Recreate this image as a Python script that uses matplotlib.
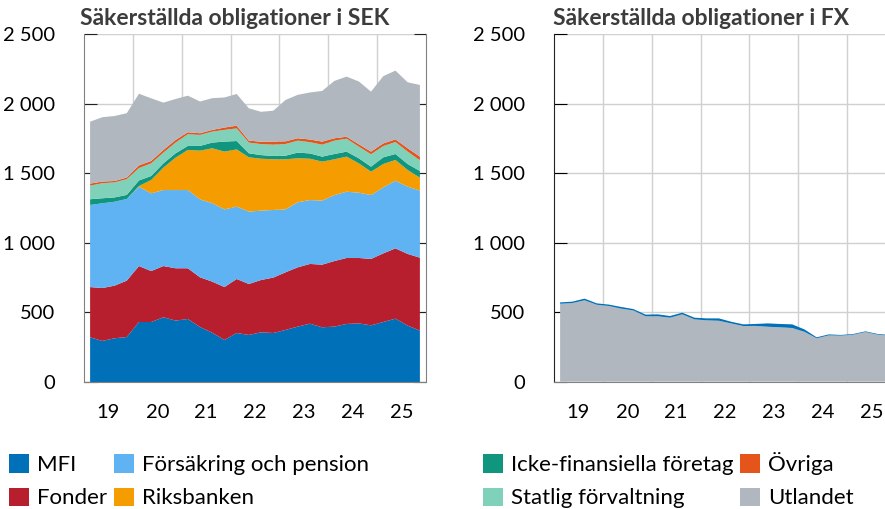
import numpy as np
import pandas as pd
import matplotlib
matplotlib.use("Agg")
import matplotlib.pyplot as plt
from matplotlib.ticker import FuncFormatter, FixedLocator
from matplotlib.patches import Patch

plt.rcParams['font.family'] = ['Lato', 'DejaVu Sans']

# kvartal 2019Q1 - 2025Q4
kvartal = pd.period_range('2019Q1', '2025Q4', freq='Q')

# Säkerställda obligationer i SEK (mdr kr)
mfi = [321, 295, 314, 323, 431, 431, 465, 441, 453, 395, 354, 302, 352, 338,
       357, 352, 374, 398, 419, 393, 398, 417, 421, 407, 431, 455, 405, 369]
fonder = [361, 380, 378, 405, 402, 366, 368, 376, 364, 357, 367, 380, 388, 366,
          376, 398, 414, 426, 429, 450, 471, 474, 470, 477, 493, 505, 515, 524]
forsakring = [590, 609, 603, 587, 570, 558, 546, 562, 562, 560, 563, 558, 520, 520,
              498, 486, 452, 467, 459, 460, 474, 476, 469, 459, 474, 486, 483, 482]
riksbanken = [0, 0, 0, 0, 5, 96, 161, 233, 288, 350, 395, 415, 411, 390,
              373, 364, 360, 316, 297, 280, 257, 252, 211, 168, 168, 149, 120, 93]
icke_fin = [41, 36, 31, 29, 40, 29, 31, 31, 29, 34, 41, 72, 60, 29,
            26, 24, 26, 41, 38, 36, 38, 36, 36, 36, 48, 43, 43, 48]
statlig = [98, 108, 108, 113, 89, 91, 77, 77, 84, 79, 79, 84, 91, 77,
           79, 81, 84, 86, 81, 86, 96, 93, 84, 89, 81, 86, 89, 77]
ovriga = [14, 12, 10, 12, 19, 17, 19, 19, 14, 12, 12, 17, 19, 14,
          17, 22, 19, 17, 19, 22, 17, 14, 17, 19, 19, 19, 24, 26]
utlandet = [445, 462, 467, 462, 515, 450, 340, 294, 263, 228, 228, 216, 228, 232,
            215, 222, 297, 312, 338, 364, 412, 432, 451, 431, 483, 494, 474, 515]

# Säkerställda obligationer i FX
fx_forsakring = [3] * 28
fx_utlandet = [559, 564, 584, 552, 543, 524, 511, 469, 469, 459, 483, 447, 440, 437,
               418, 399, 400, 394, 390, 385, 358, 311, 332, 330, 337, 356, 337, 330]
fx_mfi = [10, 10, 12, 10, 10, 12, 10, 12, 14, 12, 12, 12, 14, 17,
          12, 12, 14, 24, 24, 26, 17, 7, 7, 5, 5, 5, 5, 5]

ar_etiketter = ['19', '20', '21', '22', '23', '24', '25']

farger = {
    'MFI': '#0070b8',
    'Försäkring och pension': '#5fb3f2',
    'Fonder': '#b71f2e',
    'Riksbanken': '#f59c00',
    'Icke-finansiella företag': '#10967f',
    'Statlig förvaltning': '#7fd1b9',
    'Övriga': '#e5541b',
    'Utlandet': '#b0b7bf',
}

x = np.array([p.year + (p.quarter - 0.5) / 4 for p in kvartal])

fig = plt.figure(figsize=(8.85, 5.09), dpi=100)
ax1 = fig.add_axes([84 / 885, 1 - 382 / 509, 342 / 885, 348 / 509])
ax2 = fig.add_axes([554 / 885, 1 - 382 / 509, 342 / 885, 348 / 509])

sek_namn = ['MFI', 'Fonder', 'Försäkring och pension', 'Riksbanken',
            'Icke-finansiella företag', 'Statlig förvaltning', 'Övriga', 'Utlandet']
ax1.stackplot(x, mfi, fonder, forsakring, riksbanken, icke_fin, statlig, ovriga, utlandet,
              colors=[farger[n] for n in sek_namn], linewidth=0, zorder=2)
ax2.stackplot(x, fx_forsakring, fx_utlandet, fx_mfi,
              colors=[farger['Försäkring och pension'], farger['Utlandet'], farger['MFI']],
              linewidth=0, zorder=2)

fmt = FuncFormatter(lambda v, p: f"{v:,.0f}".replace(",", " "))
for ax in (ax1, ax2):
    ax.set_xlim(2019, 2026)
    ax.set_ylim(0, 2500)
    ax.yaxis.set_major_locator(FixedLocator(np.arange(0, 2501, 500)))
    ax.yaxis.set_major_formatter(fmt)
    ax.xaxis.set_major_locator(FixedLocator(np.arange(2020, 2026)))
    ax.xaxis.set_minor_locator(FixedLocator(np.arange(2019.5, 2026, 1)))
    ax.xaxis.set_major_formatter(FuncFormatter(lambda v, p: ''))
    ax.set_xticklabels(ar_etiketter, minor=True)
    ax.tick_params(axis='x', which='both', length=0, labelsize=14.5, pad=16)
    ax.tick_params(axis='y', direction='in', length=9, labelsize=14.5, pad=21)
    ax.grid(True, color='#d0d0d0', linewidth=1, zorder=0)
    ax.set_axisbelow(True)
    ax.spines['top'].set_visible(False)
    ax.spines['bottom'].set_color('#808080')

ax1.tick_params(axis='y', right=True, color='#222222')
ax1.spines['left'].set_color('#808080')
ax1.spines['right'].set_color('#808080')
ax2.spines['right'].set_visible(False)
ax2.spines['left'].set_color('#222222')

fig.text(80 / 885, 1 - 25 / 509, 'Säkerställda obligationer i SEK', fontsize=16.5,
         fontweight='bold', color='#3c3c3c', ha='left', va='baseline')
fig.text(553 / 885, 1 - 25 / 509, 'Säkerställda obligationer i FX', fontsize=16.5,
         fontweight='bold', color='#3c3c3c', ha='left', va='baseline')

def handtag(namn):
    return [Patch(facecolor=farger[n], edgecolor='none') for n in namn]

vanster = ['MFI', 'Fonder', 'Försäkring och pension', 'Riksbanken']
hoger = ['Icke-finansiella företag', 'Statlig förvaltning', 'Övriga', 'Utlandet']
for namn, xpos in ((vanster, -4 / 885), (hoger, 470 / 885)):
    fig.legend(handtag(namn), namn, loc='lower left', bbox_to_anchor=(xpos, -0.025),
               ncol=2, frameon=False, fontsize=16, handlelength=0.9, handleheight=0.9,
               handletextpad=0.35, columnspacing=0.3, labelspacing=0.55, borderaxespad=0.2)

fig.savefig('out.png', dpi=100)
